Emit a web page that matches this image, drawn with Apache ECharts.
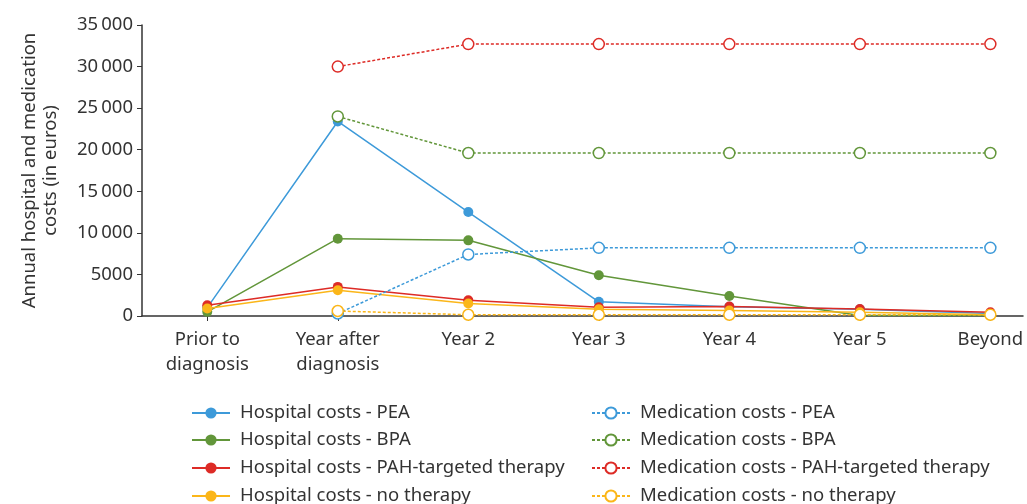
<!DOCTYPE html>
<html>
<head>
<meta charset="utf-8">
<script src="https://cdn.jsdelivr.net/npm/echarts@6/dist/echarts.min.js"></script>
<style>
html,body{margin:0;padding:0;background:#fff;}
#chart{width:1027px;height:504px;}
</style>
</head>
<body>
<div id="chart"></div>
<script>
const categories = ['Prior to\ndiagnosis', 'Year after\ndiagnosis', 'Year 2', 'Year 3', 'Year 4', 'Year 5', 'Beyond'];
const yTicks = [0, 5000, 10000, 15000, 20000, 25000, 30000, 35000];
const yTickLabels = ['0', '5000', '10\u2009000', '15\u2009000', '20\u2009000', '25\u2009000', '30\u2009000', '35\u2009000'];

const hospitalPEA = [1000, 23400, 12500, 1700, 1100, 800, 300];
const hospitalBPA = [500, 9300, 9100, 4900, 2400, 50, 50];
const hospitalPAH = [1300, 3500, 1900, 1050, 1150, 850, 450];
const hospitalNone = [900, 3100, 1500, 800, 650, 450, 150];
const medicationPEA = [null, 300, 7400, 8200, 8200, 8200, 8200];
const medicationBPA = [null, 24000, 19600, 19600, 19600, 19600, 19600];
const medicationPAH = [null, 30000, 32700, 32700, 32700, 32700, 32700];
const medicationNone = [null, 600, 150, 150, 150, 150, 150];

const seriesNames = [
  'Hospital costs - PEA', 'Hospital costs - BPA', 'Hospital costs - PAH-targeted therapy', 'Hospital costs - no therapy',
  'Medication costs - PEA', 'Medication costs - BPA', 'Medication costs - PAH-targeted therapy', 'Medication costs - no therapy'
];
const seriesValues = [hospitalPEA, hospitalBPA, hospitalPAH, hospitalNone, medicationPEA, medicationBPA, medicationPAH, medicationNone];
const colors = ['#3d9ad9', '#62963a', '#dd2b26', '#fbb619'];

const FONT = 'Noto Sans';
const TXT = '#333333';
const FS = 18.5;

function pairs(arr) {
  const out = [];
  arr.forEach((v, i) => { if (v !== null) out.push([i, v]); });
  return out;
}

const series = seriesValues.map((vals, k) => {
  const hosp = k < 4;
  const c = colors[k % 4];
  return {
    name: seriesNames[k],
    type: 'line',
    data: pairs(vals),
    symbol: 'circle',
    symbolSize: hosp ? 10 : 11,
    showSymbol: true,
    z: hosp ? 2 : 3,
    lineStyle: { color: c, width: 1.5, type: hosp ? 'solid' : [3, 2] },
    itemStyle: hosp ? { color: c } : { color: '#ffffff', borderColor: c, borderWidth: 1.5 },
    emphasis: { disabled: true },
    animation: false
  };
});

const legendRowTops = [403, 430, 458, 486];
const legends = seriesNames.map((name, k) => ({
  orient: 'horizontal',
  left: k < 4 ? 191 : 591,
  top: legendRowTops[k % 4],
  padding: 0,
  itemWidth: 38,
  itemHeight: 14,
  textStyle: { fontFamily: FONT, fontSize: FS, color: TXT, lineHeight: 20, padding: [0, 0, 0, 5] },
  selectedMode: false,
  data: [name]
}));

const chart = echarts.init(document.getElementById('chart'), null, { renderer: 'canvas' });
chart.setOption({
  backgroundColor: '#ffffff',
  animation: false,
  color: colors,
  grid: { left: 142, right: 4, top: 25, bottom: 188, containLabel: false },
  xAxis: {
    type: 'value',
    min: -0.5,
    max: 6.25,
    splitLine: { show: false },
    axisLine: { show: true, onZero: false, lineStyle: { color: '#333', width: 1.5 } },
    axisTick: { show: true, customValues: [0, 1, 2, 3, 4, 5, 6], length: 5, lineStyle: { color: '#333' } },
    axisLabel: {
      customValues: [0, 1, 2, 3, 4, 5, 6],
      formatter: v => categories[Math.round(v)],
      fontFamily: FONT, fontSize: FS, color: TXT, lineHeight: 25, margin: 11
    }
  },
  yAxis: {
    type: 'value',
    min: 0,
    max: 35000,
    interval: 5000,
    name: 'Annual hospital and medication\ncosts (in euros)',
    nameLocation: 'middle',
    nameGap: 81,
    nameRotate: 90,
    nameTextStyle: { fontFamily: FONT, fontSize: 18.5, color: TXT, lineHeight: 21 },
    splitLine: { show: false },
    axisLine: { show: true, onZero: false, lineStyle: { color: '#333', width: 1.5 } },
    axisTick: { show: true, length: 5, lineStyle: { color: '#333' } },
    axisLabel: {
      formatter: v => yTickLabels[yTicks.indexOf(v)],
      fontFamily: FONT, fontSize: FS, color: TXT, margin: 9
    }
  },
  legend: legends,
  series: series
});
</script>
</body>
</html>
